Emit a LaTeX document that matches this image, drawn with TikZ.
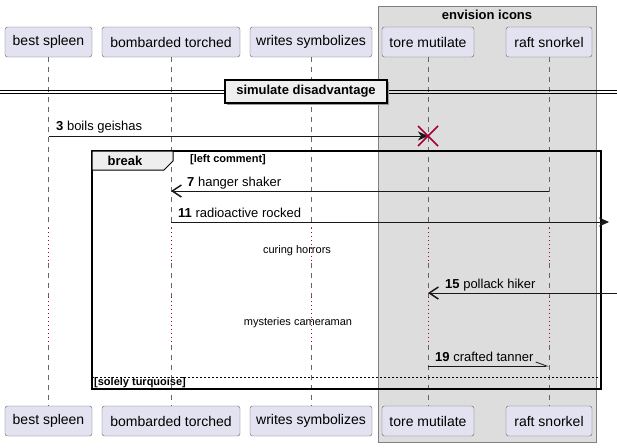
\documentclass[tikz,border=0pt]{standalone}
\usepackage{fontspec}
\setmainfont{Liberation Sans}
\usetikzlibrary{arrows.meta,positioning}
\definecolor{partfill}{HTML}{E2E2F0}
\definecolor{boxfill}{HTML}{DDDDDD}
\definecolor{tabfill}{HTML}{EEEEEE}
\definecolor{delayred}{HTML}{A80036}

\begin{document}
\begin{tikzpicture}[x=1pt,y=-1pt,
  part/.style={draw=black!60,fill=partfill,rounded corners=2.5pt,minimum height=30pt,inner sep=0pt,font=\fontsize{14}{16}\selectfont},
  life/.style={black!60,line width=0.6pt,dash pattern=on 5pt off 5pt},
  delay/.style={delayred,line width=0.8pt,dash pattern=on 1pt off 3pt},
  msg/.style={line width=0.8pt,black!90},
  full/.style={-{Stealth[length=10pt,width=9pt,inset=3pt]}},
  thin/.style={-{Straight Barb[length=9pt,width=12pt,line width=1.5pt]}},
  lbl/.style={anchor=west,inner sep=0pt,font=\fontsize{13}{15}\selectfont},
  note/.style={inner sep=0pt,font=\fontsize{11}{13}\selectfont}]
\useasboundingbox[fill=white] (0,0) rectangle (617,447);

% box round the last two participants
\filldraw[fill=boxfill,draw=black!50,line width=0.8pt] (378,6) rectangle (596,442);
\node[font=\fontsize{13}{15}\selectfont\bfseries,inner sep=0pt] (boxtitle) at (487,15) {envision icons};

% participants
\node[part,minimum width=87pt] (bs) at (48.5,42) {best spleen};
\node[part,minimum width=138pt] (bt) at (171,42) {bombarded torched};
\node[part,minimum width=122pt] (ws) at (311,42) {writes symbolizes};
\node[part,minimum width=92pt] (tm) at (428,42) {tore mutilate};
\node[part,minimum width=86pt] (rs) at (549,42) {raft snorkel};
\node[part,minimum width=87pt] (bs2) at (48.5,421) {best spleen};
\node[part,minimum width=138pt] (bt2) at (171,421) {bombarded torched};
\node[part,minimum width=122pt] (ws2) at (311,421) {writes symbolizes};
\node[part,minimum width=92pt] (tm2) at (428,421) {tore mutilate};
\node[part,minimum width=86pt] (rs2) at (549,421) {raft snorkel};

% lifelines, dotted during the two delays
\foreach \p in {bs,bt,ws,tm,rs} {
  \draw[life] (\p.south) -- (\p |- 0,228);
  \draw[delay] (\p |- 0,228) -- (\p |- 0,263);
  \draw[life] (\p |- 0,263) -- (\p |- 0,297);
  \draw[delay] (\p |- 0,297) -- (\p |- 0,345);
  \draw[life] (\p |- 0,345) -- (\p2.north);
}

% divider
\draw[line width=0.8pt] (0,90) -- (617,90) (0,93) -- (617,93);
\fill[black!40] (227,82) rectangle (389,105);
\node[draw,line width=1.1pt,fill=tabfill,minimum width=162pt,minimum height=23pt,inner sep=0pt,
  font=\fontsize{13}{15}\selectfont\bfseries] (divider) at (306,91.5) {simulate disadvantage};

% message 3 and destroy
\draw[msg,full] (bs |- 0,136) -- (tm |- 0,136);
\node[lbl] (l3) at (56,127) {\textbf{3} boils geishas};
\coordinate (x3) at (tm |- 0,136);
\draw[delayred,line width=1.5pt] (x3) ++(-10,-10) -- ++(20,20) (x3) ++(-10,10) -- ++(20,-20);

% break group
\draw[line width=1.4pt] (92,151) rectangle (601,389);
\filldraw[fill=tabfill,line width=1pt] (92,151) -- (173,151) -- (173,161) -- (164,170) -- (92,170) -- cycle;
\node[font=\fontsize{13}{15}\selectfont\bfseries,inner sep=0pt] (brk) at (125,161) {break};
\node[note,font=\fontsize{11}{13}\selectfont\bfseries] (cond1) at (228,160) {[left comment]};
\draw[line width=0.8pt,dash pattern=on 2pt off 2pt] (92,377) -- (601,377);
\node[note,anchor=west,font=\fontsize{11}{13}\selectfont\bfseries] (cond2) at (94,383) {[solely turquoise]};

% messages inside the group
\draw[msg,thin] (rs |- 0,191) -- (bt |- 0,191);
\node[lbl] (l7) at (187,183) {\textbf{7} hanger shaker};
\coordinate (out11) at (609,222);
\draw[msg,full] (bt |- out11) -- (out11);
\node[lbl] (l11) at (178,213) {\textbf{11} radioactive rocked};
\node[note] (d1) at (297,251) {curing horrors};
\coordinate (in15) at (617,293);
\draw[msg,thin] (in15) -- (tm |- in15);
\node[lbl] (l15) at (445,285) {\textbf{15} pollack hiker};
\node[note] (d2) at (298,323) {mysteries cameraman};
\draw[msg,-{Straight Barb[harpoon,length=11pt,width=8pt,line width=0.8pt]}] (tm |- 0,366) -- (rs |- 0,366);
\node[lbl] (l19) at (435,357) {\textbf{19} crafted tanner};
\end{tikzpicture}
\end{document}
